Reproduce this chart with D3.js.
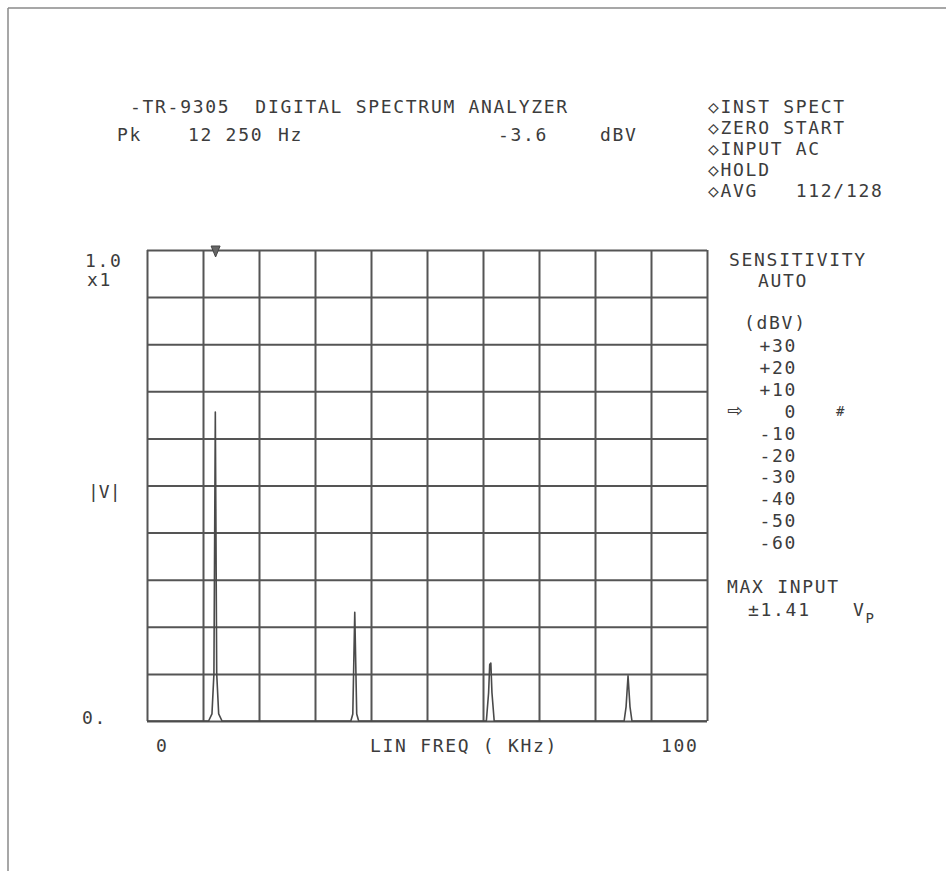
<!DOCTYPE html>
<html>
<head>
<meta charset="utf-8">
<script src="https://cdn.jsdelivr.net/npm/d3@7"></script>
<style>
  html, body { margin: 0; padding: 0; background: #fff; }
  svg text { font-family: "DejaVu Sans Mono", monospace; font-size: 18px; fill: #3c3c3c; letter-spacing: 1.7px; white-space: pre; }
</style>
</head>
<body>
<div id="chart"></div>
<script>
// ---------- data ----------
const xDomain = [0, 100];            // LIN FREQ (kHz)
const yDomain = [0, 1];              // |V|
const gridX = [0, 10, 20, 30, 40, 50, 60, 70, 80, 90, 100];
const gridY = [0, 0.1, 0.2, 0.3, 0.4, 0.5, 0.6, 0.7, 0.8, 0.9, 1.0];
const xTickLabels = ["0", "100"];
const yTickLabels = ["0.", "1.0"];

// spectrum trace: frequency (kHz) and amplitude (|V|)
const traceFreq = [0, 11.0, 11.6, 11.95, 12.2, 12.45, 12.8, 13.4,
                   36.4, 36.75, 37.1, 37.45, 37.8,
                   60.6, 61.0, 61.2, 61.4, 61.6, 62.0,
                   85.2, 85.55, 85.9, 86.25, 86.6, 100];
const traceAmp  = [0, 0, 0.015, 0.1, 0.656, 0.1, 0.015, 0,
                   0, 0.015, 0.231, 0.015, 0,
                   0, 0.06, 0.12, 0.123, 0.06, 0,
                   0, 0.03, 0.096, 0.03, 0, 0];
const markerFreq = 12.25;

const headerTitle = "-TR-9305  DIGITAL SPECTRUM ANALYZER";
const statusLines = ["\u25C7INST SPECT", "\u25C7ZERO START", "\u25C7INPUT AC", "\u25C7HOLD", "\u25C7AVG   112/128"];
const sensLevels = ["+30", "+20", "+10", "0", "-10", "-20", "-30", "-40", "-50", "-60"];

// ---------- layout ----------
const W = 946, H = 871;
const plot = { left: 147, right: 707, top: 250, bottom: 721 };

const svg = d3.select("#chart").append("svg")
  .attr("width", W).attr("height", H)
  .attr("xml:space", "preserve")
  .style("background", "#fff");

// paper edges
svg.append("line").attr("x1", 8).attr("y1", 8).attr("x2", W).attr("y2", 8)
  .attr("stroke", "#8a8a8a").attr("stroke-width", 1.5);
svg.append("line").attr("x1", 8).attr("y1", 8).attr("x2", 8).attr("y2", H)
  .attr("stroke", "#8a8a8a").attr("stroke-width", 1.5);

const x = d3.scaleLinear().domain(xDomain).range([plot.left, plot.right]);
const y = d3.scaleLinear().domain(yDomain).range([plot.bottom, plot.top]);

// grid via axes
const gx = svg.append("g").attr("transform", `translate(0,${plot.bottom})`)
  .call(d3.axisBottom(x).tickValues(gridX).tickSize(-(plot.bottom - plot.top)).tickFormat(""));
gx.select(".domain").remove();
gx.selectAll(".tick line").attr("stroke", "#555").attr("stroke-width", 2);

const gy = svg.append("g").attr("transform", `translate(${plot.left},0)`)
  .call(d3.axisLeft(y).tickValues(gridY).tickSize(-(plot.right - plot.left)).tickFormat(""));
gy.select(".domain").remove();
gy.selectAll(".tick line").attr("stroke", "#555").attr("stroke-width", 2);

// spectrum trace
const pts = traceFreq.map((f, i) => [f, traceAmp[i]]);
svg.append("path")
  .datum(pts)
  .attr("fill", "none")
  .attr("stroke", "#4a4a4a")
  .attr("stroke-width", 1.6)
  .attr("stroke-linejoin", "round")
  .attr("d", d3.line().x(d => x(d[0])).y(d => y(d[1])));

// peak marker at top
const mx = x(markerFreq);
svg.append("path")
  .attr("d", `M${mx - 4.5},${plot.top - 4} L${mx + 4.5},${plot.top - 4} L${mx},${plot.top + 7} Z`)
  .attr("fill", "#666").attr("stroke", "#444").attr("stroke-width", 1);

// ---------- text ----------
function txt(s, px, py, anchor) {
  return svg.append("text").attr("x", px).attr("y", py)
    .attr("text-anchor", anchor || "start").text(s);
}

// header
txt(headerTitle, 130, 113);
txt("Pk", 117, 141);
txt("12 250", 188, 141);
txt("Hz", 278, 141);
txt("-3.6", 498, 141);
txt("dBV", 600, 141);

statusLines.forEach((s, i) => txt(s, 708, 113 + i * 21));

// left labels
txt(yTickLabels[1], 85, 267);
txt("x1", 87, 286);
txt("|V|", 88, 498).style("letter-spacing", "0px");
txt(yTickLabels[0], 82, 724);

// x labels
txt(xTickLabels[0], 156, 752);
txt("LIN FREQ ( KHz)", 370, 752);
txt(xTickLabels[1], 661, 752);

// right panel
txt("SENSITIVITY", 729, 266);
txt("AUTO", 758, 287);
txt("(dBV)", 744, 329);
sensLevels.forEach((s, i) => txt(s, 797, 352 + i * 21.9, "end"));
svg.append("text").attr("x", 727).attr("y", 417)
  .style("font-family", "'DejaVu Sans', sans-serif").style("font-size", "19px").text("\u21E8");
txt("#", 836, 416).style("font-size", "14px");
txt("MAX INPUT", 727, 593);
txt("\u00B11.41", 748, 616);
const vp = svg.append("text").attr("x", 853).attr("y", 616);
vp.append("tspan").text("V");
vp.append("tspan").attr("dy", 7).style("font-size", "14px").text("P");
</script>
</body>
</html>
